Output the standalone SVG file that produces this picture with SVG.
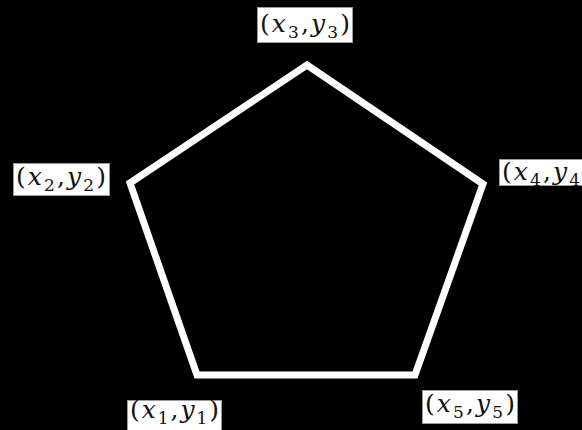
<svg xmlns="http://www.w3.org/2000/svg" width="582" height="430" viewBox="0 0 582 430">
<style>
.bg{fill:#000}
.box{fill:#fff;stroke:#9a9a9a;stroke-width:1}
.lbl{font-family:"DejaVu Serif","Liberation Serif",serif;font-size:25px;fill:#111}
.v{font-style:italic}
.s{font-size:17px}
.edge{fill:none;stroke:#fff;stroke-width:7;stroke-linejoin:miter}
</style>
<rect class="bg" x="0" y="0" width="582" height="430"/>
<g id="connectors">
<polygon class="edge" points="197,375 130,183 307,65 483,184 415,375"/>
</g>
<g id="node-p3">
<rect class="box" x="257.5" y="7.5" width="95" height="35"/>
<text class="lbl" x="260" y="32" textLength="90" lengthAdjust="spacing">(<tspan class="v">x</tspan><tspan class="s" dy="6">3</tspan><tspan dy="-6">,</tspan><tspan class="v">y</tspan><tspan class="s" dy="6">3</tspan><tspan dy="-6">)</tspan></text>
</g>
<g id="node-p2">
<rect class="box" x="13.5" y="163.5" width="96" height="32"/>
<text class="lbl" x="16" y="185" textLength="90" lengthAdjust="spacing">(<tspan class="v">x</tspan><tspan class="s" dy="6">2</tspan><tspan dy="-6">,</tspan><tspan class="v">y</tspan><tspan class="s" dy="6">2</tspan><tspan dy="-6">)</tspan></text>
</g>
<g id="node-p4">
<rect class="box" x="499.5" y="159.5" width="96" height="26"/>
<text class="lbl" x="502" y="180" textLength="90" lengthAdjust="spacing">(<tspan class="v">x</tspan><tspan class="s" dy="6">4</tspan><tspan dy="-6">,</tspan><tspan class="v">y</tspan><tspan class="s" dy="6">4</tspan><tspan dy="-6">)</tspan></text>
</g>
<g id="node-p1">
<rect class="box" x="127.5" y="400.5" width="94" height="34"/>
<text class="lbl" x="130" y="418" textLength="89" lengthAdjust="spacing">(<tspan class="v">x</tspan><tspan class="s" dy="6">1</tspan><tspan dy="-6">,</tspan><tspan class="v">y</tspan><tspan class="s" dy="6">1</tspan><tspan dy="-6">)</tspan></text>
</g>
<g id="node-p5">
<rect class="box" x="422.5" y="390.5" width="95" height="33"/>
<text class="lbl" x="425" y="412" textLength="90" lengthAdjust="spacing">(<tspan class="v">x</tspan><tspan class="s" dy="6">5</tspan><tspan dy="-6">,</tspan><tspan class="v">y</tspan><tspan class="s" dy="6">5</tspan><tspan dy="-6">)</tspan></text>
</g>
</svg>
